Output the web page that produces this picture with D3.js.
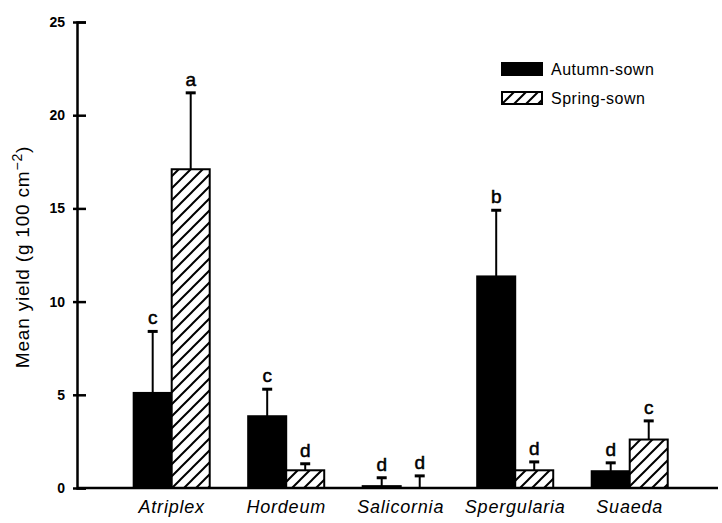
<!DOCTYPE html>
<html>
<head>
<meta charset="utf-8">
<script src="https://cdn.jsdelivr.net/npm/d3@7"></script>
<style>
  body { margin: 0; background: #fff; }
  text { font-family: "Liberation Sans", Arial, sans-serif; fill: #000; }
</style>
</head>
<body>
<div id="container"></div>
<script>
  // data
  const species = ['Atriplex', 'Hordeum', 'Salicornia', 'Spergularia', 'Suaeda']
  const seriesNames = ['Autumn-sown', 'Spring-sown']
  const autumnMean = [5.1, 3.85, 0.1, 11.35, 0.9]
  const autumnErr = [3.3, 1.45, 0.45, 3.55, 0.45]
  const autumnLetters = ['c', 'c', 'd', 'b', 'd']
  const springMean = [17.1, 0.95, 0, 0.95, 2.6]
  const springErr = [4.1, 0.35, 0.65, 0.45, 1.0]
  const springLetters = ['a', 'd', 'd', 'd', 'c']
  const yTicks = [0, 5, 10, 15, 20, 25]

  const width = 722
  const height = 523
  const mLeft = 77, mRight = 718, mTop = 22, mBottom = 488

  const svg = d3.select('#container')
    .append('svg')
    .attr('width', width)
    .attr('height', height)

  // hatch pattern
  const defs = svg.append('defs')
  const pat = defs.append('pattern')
    .attr('id', 'hatch')
    .attr('patternUnits', 'userSpaceOnUse')
    .attr('width', 12)
    .attr('height', 12)
  pat.append('rect').attr('width', 12).attr('height', 12).attr('fill', '#fff')
  pat.append('path')
    .attr('d', 'M0,12 L12,0 M-3,3 L3,-3 M9,15 L15,9')
    .attr('stroke', '#000')
    .attr('stroke-width', 2)

  const xScale = d3.scaleBand()
    .domain(species)
    .range([mLeft, mRight])
    .paddingInner(0.336)
    .paddingOuter(0.467)
    .align(0.53)

  const xSub = d3.scaleBand()
    .domain(seriesNames)
    .range([0, xScale.bandwidth()])

  const yScale = d3.scaleLinear()
    .domain([0, 25])
    .range([mBottom, mTop])

  const rows = species.map((s, i) => [
    { sp: s, series: seriesNames[0], v: autumnMean[i], e: autumnErr[i], l: autumnLetters[i] },
    { sp: s, series: seriesNames[1], v: springMean[i], e: springErr[i], l: springLetters[i] }
  ]).flat()

  const fillFor = (s) => s === seriesNames[0] ? '#000' : 'url(#hatch)'
  const cx = (d) => xScale(d.sp) + xSub(d.series) + xSub.bandwidth() / 2

  const chart = svg.append('g')

  // error bars (upper only)
  const eb = chart.selectAll('.err')
    .data(rows)
    .enter()
    .append('g')
    .attr('class', 'err')
  eb.append('line')
    .attr('x1', cx)
    .attr('x2', cx)
    .attr('y1', (d) => yScale(d.v))
    .attr('y2', (d) => yScale(d.v + d.e))
    .attr('stroke', '#000')
    .attr('stroke-width', 2)
  eb.append('line')
    .attr('x1', (d) => cx(d) - 5)
    .attr('x2', (d) => cx(d) + 5)
    .attr('y1', (d) => yScale(d.v + d.e))
    .attr('y2', (d) => yScale(d.v + d.e))
    .attr('stroke', '#000')
    .attr('stroke-width', 3)

  // bars
  chart.selectAll('.bar')
    .data(rows)
    .enter()
    .append('rect')
    .attr('class', 'bar')
    .attr('x', (d) => xScale(d.sp) + xSub(d.series))
    .attr('y', (d) => yScale(d.v))
    .attr('width', xSub.bandwidth())
    .attr('height', (d) => mBottom - yScale(d.v))
    .attr('fill', (d) => fillFor(d.series))
    .attr('stroke', '#000')
    .attr('stroke-width', 2)

  // significance letters
  chart.selectAll('.letter')
    .data(rows)
    .enter()
    .append('text')
    .attr('class', 'letter')
    .attr('x', cx)
    .attr('y', (d) => yScale(d.v + d.e) - 7)
    .attr('text-anchor', 'middle')
    .style('font-size', '19px')
    .style('stroke', '#000')
    .style('stroke-width', 0.5)
    .text((d) => d.l)

  // axes
  const yAxis = svg.append('g')
    .attr('transform', `translate(${mLeft},0)`)
    .call(d3.axisLeft(yScale).tickValues(yTicks).tickSize(-9).tickPadding(12))
  yAxis.select('.domain').attr('stroke-width', 2.5)
  yAxis.selectAll('.tick line').attr('x1', -4).attr('stroke-width', 2.5)
  yAxis.selectAll('.tick text')
    .style('font-size', '14px')
    .style('font-weight', 'bold')
    .style('font-family', '"Liberation Sans", Arial, sans-serif')

  const xAxis = svg.append('g')
    .attr('transform', `translate(0,${mBottom})`)
    .call(d3.axisBottom(xScale).tickSize(0).tickPadding(12))
  xAxis.select('.domain').attr('d', `M${mLeft},0H${mRight}`).attr('stroke-width', 2.5)
  xAxis.selectAll('.tick text')
    .style('font-size', '18px')
    .style('font-style', 'italic')
    .style('letter-spacing', '0.8px')
    .style('font-family', '"Liberation Sans", Arial, sans-serif')

  // y label
  const yl = svg.append('text')
    .attr('transform', `translate(29, ${(mTop + mBottom) / 2 + 2}) rotate(-90)`)
    .attr('text-anchor', 'middle')
    .style('font-size', '19px')
    .style('letter-spacing', '0.8px')
  yl.append('tspan').text('Mean yield (g 100 cm')
  yl.append('tspan').attr('dy', -7).style('font-size', '14px').text('\u22122')
  yl.append('tspan').attr('dy', 7).text(')')

  // legend
  const legend = svg.append('g')
    .attr('transform', 'translate(502,63)')
  const li = legend.selectAll('g')
    .data(seriesNames)
    .enter()
    .append('g')
    .attr('transform', (d, i) => `translate(0, ${i * 29})`)
  li.append('rect')
    .attr('width', 40)
    .attr('height', 12)
    .attr('fill', (d) => fillFor(d))
    .attr('stroke', '#000')
    .attr('stroke-width', 2)
  li.append('text')
    .attr('x', 49)
    .attr('y', 12)
    .style('font-size', '16px')
    .style('letter-spacing', '0.5px')
    .text((d) => d)
</script>
</body>
</html>
